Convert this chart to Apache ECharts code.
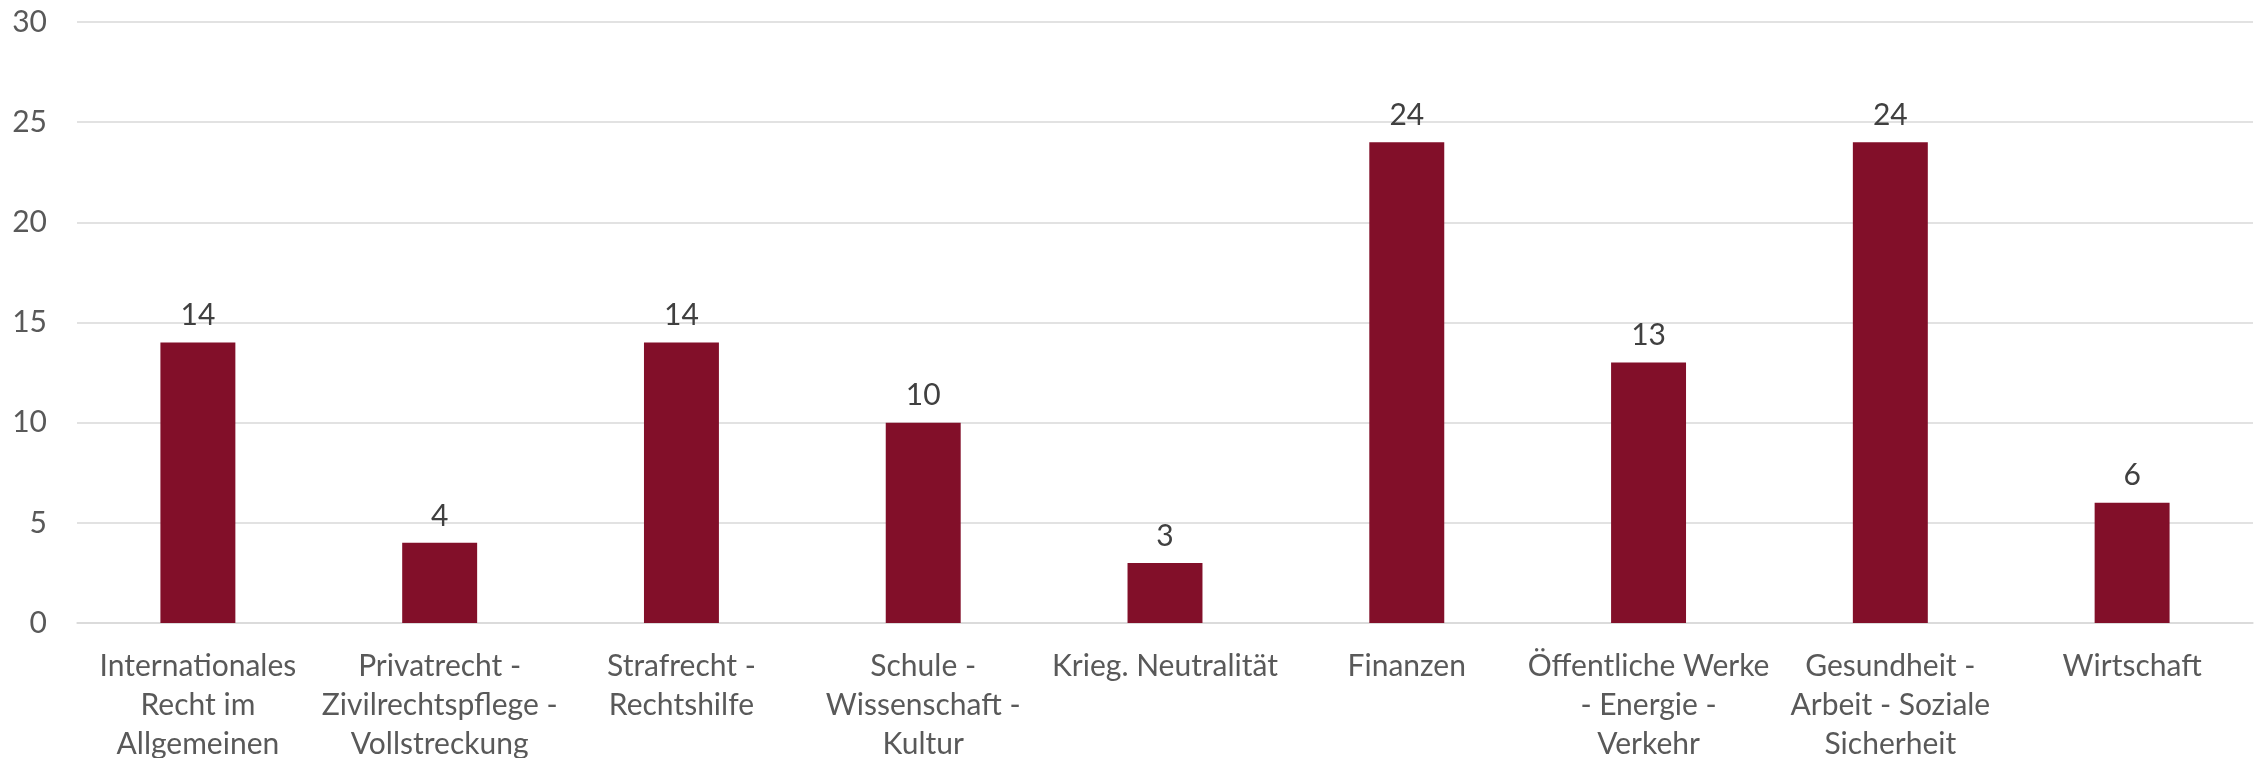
<!DOCTYPE html>
<html>
<head>
<meta charset="utf-8">
<script src="https://cdn.jsdelivr.net/npm/echarts@6/dist/echarts.min.js"></script>
<style>
html,body{margin:0;padding:0;background:#fff;}
#chart{width:2260px;height:758px;}
</style>
</head>
<body>
<div id="chart"></div>
<script>
const categories = [
  "Internationales\nRecht im\nAllgemeinen",
  "Privatrecht -\nZivilrechtspflege -\nVollstreckung",
  "Strafrecht -\nRechtshilfe",
  "Schule -\nWissenschaft -\nKultur",
  "Krieg. Neutralität",
  "Finanzen",
  "Öffentliche Werke\n- Energie -\nVerkehr",
  "Gesundheit -\nArbeit - Soziale\nSicherheit",
  "Wirtschaft"
];
const values = [14, 4, 14, 10, 3, 24, 13, 24, 6];
const yTicks = [0, 5, 10, 15, 20, 25, 30];

const FONT = "Lato";
const chart = echarts.init(document.getElementById('chart'), null, {renderer: 'canvas'});
chart.setOption({
  animation: false,
  backgroundColor: '#ffffff',
  grid: {left: 77, right: 7, top: 22, bottom: 135, containLabel: false, outerBoundsMode: 'none'},
  xAxis: {
    type: 'category',
    data: categories,
    axisLine: {show: true, lineStyle: {color: '#d9d9d9', width: 1.5}},
    axisTick: {show: false},
    axisLabel: {
      interval: 0,
      color: '#595959',
      fontFamily: FONT,
      fontSize: 30,
      lineHeight: 39,
      margin: 24,
      align: 'center'
    }
  },
  yAxis: {
    type: 'value',
    min: yTicks[0],
    max: yTicks[yTicks.length - 1],
    interval: yTicks[1] - yTicks[0],
    axisLine: {show: false},
    axisTick: {show: false},
    splitLine: {lineStyle: {color: '#d9d9d9', width: 1.5}},
    axisLabel: {color: '#595959', fontFamily: FONT, fontSize: 30, margin: 30}
  },
  series: [{
    type: 'bar',
    data: values,
    barWidth: '31%',
    itemStyle: {color: '#820f29'},
    label: {
      show: true,
      position: 'top',
      distance: 12,
      color: '#404040',
      fontFamily: FONT,
      fontSize: 30
    }
  }]
});
</script>
</body>
</html>
